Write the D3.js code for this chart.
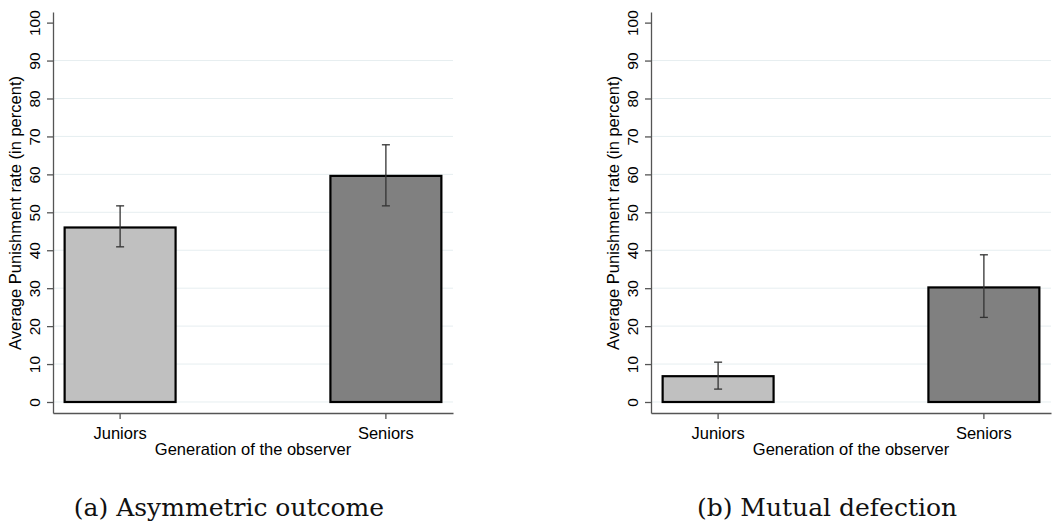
<!DOCTYPE html>
<html>
<head>
<meta charset="utf-8">
<script src="https://cdn.jsdelivr.net/npm/d3@7"></script>
<style>
  body { margin: 0; background: #fff; }
  svg { display: block; }
</style>
</head>
<body>
<div id="container"></div>
<script>
const width = 1055,
    height = 529,
    plotW = 400,
    panelLeft = [53, 651],
    plotTop = 12,
    plotBottom = 413;

// data
const generations = ["Juniors", "Seniors"];
const asymMean = [46.0, 59.6];
const asymLow = [40.9, 51.7];
const asymHigh = [51.7, 67.8];
const mutualMean = [6.8, 30.2];
const mutualLow = [3.4, 22.3];
const mutualHigh = [10.5, 38.8];
const yTicks = [0, 10, 20, 30, 40, 50, 60, 70, 80, 90, 100];
const captions = ["(a) Asymmetric outcome", "(b) Mutual defection"];
const yTitle = "Average Punishment rate (in percent)";
const xTitle = "Generation of the observer";

const panels = [
    { mean: asymMean, low: asymLow, high: asymHigh, caption: captions[0] },
    { mean: mutualMean, low: mutualLow, high: mutualHigh, caption: captions[1] }
];

const sans = "'Liberation Sans', Arial, sans-serif";

const svg = d3.select("#container")
    .append("svg")
    .attr("width", width)
    .attr("height", height)

const colorScale = d3.scaleOrdinal()
    .domain(generations)
    .range(["#c0c0c0", "#808080"])

//SCALES (shared by both panels)
const xScale = d3.scaleBand()
    .domain(generations)
    .range([0, plotW])
    .paddingInner(0.575)
    .paddingOuter(0.04)

const yScale = d3.scaleLinear()
    .domain([-2.9, 102.8])
    .range([plotBottom, plotTop])

panels.forEach((p, i) => {
    const g = svg.append("g")
        .attr("transform", `translate(${panelLeft[i]},0)`)

    const rows = generations.map((gen, j) => ({
        gen: gen, mean: p.mean[j], low: p.low[j], high: p.high[j]
    }))

    //GRID LINES
    g.selectAll(".grid")
        .data(yTicks.filter(t => t < 100))
        .join("line")
        .attr("class", "grid")
        .attr("x1", 0)
        .attr("x2", plotW)
        .attr("y1", d => yScale(d))
        .attr("y2", d => yScale(d))
        .attr("stroke", "#e6eef0")
        .attr("stroke-width", 1)

    //BARS
    g.selectAll(".bar")
        .data(rows)
        .join("rect")
        .attr("class", "bar")
        .attr("x", d => xScale(d.gen) + 1)
        .attr("width", xScale.bandwidth() - 2)
        .attr("y", d => yScale(d.mean))
        .attr("height", d => yScale(0) - yScale(d.mean))
        .attr("fill", d => colorScale(d.gen))
        .attr("stroke", "#000")
        .attr("stroke-width", 2.2)

    //ERROR BARS
    const cx = d => xScale(d.gen) + xScale.bandwidth() / 2
    const err = g.selectAll(".err")
        .data(rows)
        .join("g")
        .attr("class", "err")
        .attr("stroke", "#333")
        .attr("stroke-width", 1.3)
    err.append("line")
        .attr("x1", cx).attr("x2", cx)
        .attr("y1", d => yScale(d.low))
        .attr("y2", d => yScale(d.high))
    err.append("line")
        .attr("x1", d => cx(d) - 4).attr("x2", d => cx(d) + 4)
        .attr("y1", d => yScale(d.high))
        .attr("y2", d => yScale(d.high))
    err.append("line")
        .attr("x1", d => cx(d) - 4).attr("x2", d => cx(d) + 4)
        .attr("y1", d => yScale(d.low))
        .attr("y2", d => yScale(d.low))

    //Y AXIS
    const yAxis = g.append("g")
        .call(d3.axisLeft(yScale).tickValues(yTicks).tickSize(6).tickSizeOuter(0))
    yAxis.selectAll("text")
        .attr("transform", "rotate(-90)")
        .attr("x", 0)
        .attr("y", -13)
        .attr("dy", 0)
        .attr("text-anchor", "middle")

    //X AXIS
    const xAxis = g.append("g")
        .attr("transform", `translate(0,${plotBottom})`)
        .call(d3.axisBottom(xScale).tickSize(6).tickPadding(8).tickSizeOuter(0))

    g.selectAll(".domain, .tick line")
        .attr("stroke", "#555")
        .attr("stroke-width", 1.3)
    yAxis.attr("font-family", sans).attr("font-size", 15.5)
    xAxis.attr("font-family", sans).attr("font-size", 16.5)
    g.selectAll(".tick text").attr("fill", "#000")

    //AXIS TITLES
    g.append("text")
        .attr("transform", `translate(-32,213) rotate(-90)`)
        .attr("text-anchor", "middle")
        .attr("font-family", sans)
        .attr("font-size", 16.5)
        .attr("fill", "#000")
        .text(yTitle)

    g.append("text")
        .attr("x", plotW / 2)
        .attr("y", 455)
        .attr("text-anchor", "middle")
        .attr("font-family", sans)
        .attr("font-size", 16.5)
        .attr("fill", "#000")
        .text(xTitle)

    //CAPTION
    g.append("text")
        .attr("x", plotW / 2 - 24)
        .attr("y", 516)
        .attr("text-anchor", "middle")
        .attr("font-family", "'DejaVu Serif', serif")
        .attr("font-size", 25)
        .attr("fill", "#111")
        .text(p.caption)
})
</script>
</body>
</html>
